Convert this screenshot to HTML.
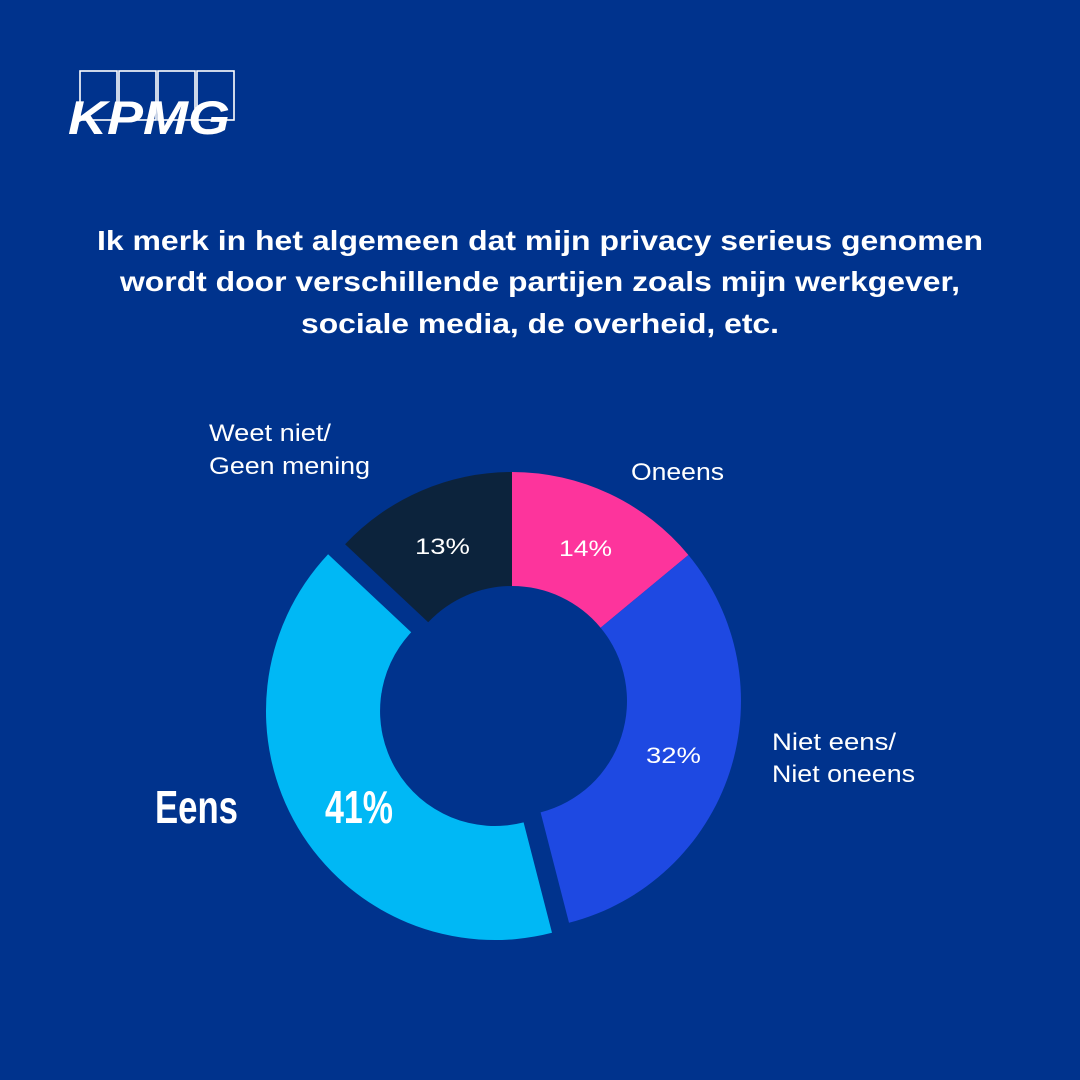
<!DOCTYPE html>
<html><head><meta charset="utf-8"><style>
html,body{margin:0;padding:0;background:#00338D;}
svg{display:block}
</style></head><body>
<svg width="1080" height="1080" viewBox="0 0 1080 1080" xmlns="http://www.w3.org/2000/svg">
<rect width="1080" height="1080" fill="#00338D"/>
<g fill="none" stroke="#ffffff" stroke-width="1.6">
<rect x="80" y="71" width="37" height="49"/>
<rect x="119" y="71" width="37" height="49"/>
<rect x="158" y="71" width="37" height="49"/>
<rect x="197" y="71" width="37" height="49"/>
</g>
<text x="68" y="134" font-family="Liberation Sans, sans-serif" font-weight="bold" font-style="italic" font-size="47" fill="#fff" textLength="162" lengthAdjust="spacingAndGlyphs">KPMG</text>
<g font-family="Liberation Sans, sans-serif" font-weight="bold" font-size="28" fill="#fff" text-anchor="middle">
<text x="540" y="250" textLength="886" lengthAdjust="spacingAndGlyphs">Ik merk in het algemeen dat mijn privacy serieus genomen</text>
<text x="540" y="291" textLength="840" lengthAdjust="spacingAndGlyphs">wordt door verschillende partijen zoals mijn werkgever,</text>
<text x="540" y="333" textLength="478" lengthAdjust="spacingAndGlyphs">sociale media, de overheid, etc.</text>
</g>
<path d="M512 472 A229 229 0 0 1 688.4 555 L600.6 627.7 A115 115 0 0 0 512 586 Z" fill="#FD349C"/>
<path d="M688.4 555 A229 229 0 0 1 569 922.8 L540.6 812.4 A115 115 0 0 0 600.6 627.7 Z" fill="#1E49E2"/>
<path d="M552 932.8 A229 229 0 0 1 328.1 554.2 L411.2 632.3 A115 115 0 0 0 523.6 822.4 Z" fill="#00B8F5"/>
<path d="M345.1 544.2 A229 229 0 0 1 512 472 L512 586 A115 115 0 0 0 428.2 622.3 Z" fill="#0C233C"/>
<g font-family="Liberation Sans, sans-serif" font-size="24" fill="#fff">
<text x="209" y="441" textLength="122" lengthAdjust="spacingAndGlyphs">Weet niet/</text>
<text x="209" y="474" textLength="161" lengthAdjust="spacingAndGlyphs">Geen mening</text>
<text x="631" y="480" textLength="93" lengthAdjust="spacingAndGlyphs">Oneens</text>
<text x="772" y="750" textLength="124" lengthAdjust="spacingAndGlyphs">Niet eens/</text>
<text x="772" y="782" textLength="143" lengthAdjust="spacingAndGlyphs">Niet oneens</text>
<text x="415" y="554" font-size="22" textLength="55" lengthAdjust="spacingAndGlyphs">13%</text>
<text x="559" y="556" font-size="22" textLength="53" lengthAdjust="spacingAndGlyphs">14%</text>
<text x="646" y="763" font-size="22" textLength="55" lengthAdjust="spacingAndGlyphs">32%</text>
</g>
<g font-family="Liberation Sans, sans-serif" font-weight="bold" font-size="46" fill="#fff">
<text x="155" y="823" textLength="83" lengthAdjust="spacingAndGlyphs">Eens</text>
<text x="325" y="823" textLength="68" lengthAdjust="spacingAndGlyphs">41%</text>
</g>
</svg>
</body></html>
